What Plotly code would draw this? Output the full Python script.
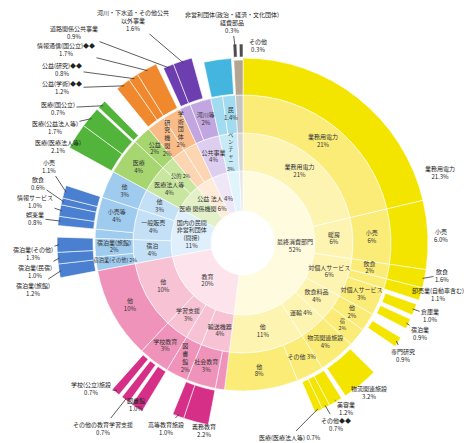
import math
import plotly.graph_objects as go

# ---------------- data (percent of total, clockwise from 12 o'clock) ----------------
ring1_names = ["最終消費部門", "教育", "国内の民間<br>非営利団体<br>(間接)", "医療<br>関係機関",
               "公益<br>法人", "公共", "その他", ""]
ring1_values = [52, 20, 11, 6, 4, 3.5, 2.7, 0.8]
ring1_groups = ["Y", "P", "B", "G", "O", "U", "C", "K"]

ring2_names = ["業務用電力", "暖房", "対個人サービス", "飲食料品", "運輸", "他",
               "輸送機器", "図書館", "学習支援", "他",
               "宿泊", "一般販売", "他",
               "医療法人等", "公的",
               "研究", "学術",
               "公共事業",
               "ベンチャー",
               ""]
ring2_values = [21.3, 6.0, 5.7, 4, 4, 11,
                4.2, 2.4, 3.4, 10,
                3.5, 4.5, 3,
                4, 2,
                2, 2,
                3.5,
                2.7,
                0.8]
ring2_groups = ["Y", "Y", "Y", "Y", "Y", "Y",
                "P", "P", "P", "P",
                "B", "B", "B",
                "G", "G",
                "O", "O",
                "U",
                "C",
                "K"]

ring3_names = ["業務用電力", "小売", "飲食", "卸売", "対個人サービス", "他", "宿", "物流関連施設", "その他", "他",
               "その他", "社会教育", "図書館", "学校教育", "他",
               "宿泊業(その他)", "宿泊業(旅館)", "他", "小売等", "他",
               "医療", "公益",
               "研究機関", "学術団体",
               "道路", "河川等",
               "国", "民",
               ""]
ring3_values = [21.3, 6.0, 1.6, 1.1, 3.0, 2, 2, 4, 3, 8,
                1.0, 3.2, 2.4, 3.4, 10,
                1.5, 2.0, 1.0, 3.5, 3,
                4, 2,
                2, 2,
                1.2, 2.3,
                1.3, 1.4,
                0.8]
ring3_groups = ["Y"] * 10 + ["P"] * 5 + ["B"] * 5 + ["G"] * 2 + ["O"] * 2 + ["U"] * 2 + ["C"] * 2 + ["K"]

# outer ring (None = empty slot)
ring4_names = ["業務用電力", "小売", "飲食", "卸売業(自動車含む)", None, "倉庫業", None, "宿泊業", None,
               "専門研究", None, "物流関連施設", None, "美容業", "その他◆◆", "医療(医療法人等)", None,
               None, "義務教育", "高等教育施設", None, "図書館", None, "その他の教育学習支援", None,
               "学校(公立)施設", None,
               "宿泊業(旅館)", "宿泊業(民宿)", "宿泊業(その他)", None, "娯楽業", "情報サービス", "飲食", "小売", None,
               "医療(医療法人等)", "医療(公益法人等)", None, "医療(国公立)", None,
               None, "公益(学術)◆◆", "公益(研究)◆◆", "情報通信(国公立)◆◆", None,
               None, "道路関係公共事業", "河川・下水道・その他公共以外事業", None,
               None, "団体", None,
               ""]
ring4_values = [21.3, 6.0, 1.6, 1.1, 0.4, 1.0, 0.4, 0.9, 0.9,
                0.9, 2.9, 3.2, 0.4, 1.2, 0.7, 0.7, 8.4,
                1.0, 2.2, 1.0, 2.4, 1.0, 0.3, 0.7, 0.3,
                0.7, 10.4,
                1.2, 1.0, 1.3, 1.0, 0.8, 1.0, 0.6, 1.1, 3,
                2.1, 1.7, 0.2, 0.7, 1.3,
                0.1, 1.2, 0.8, 1.7, 0.2,
                0.2, 0.9, 1.6, 0.8,
                0.1, 2.4, 0.2,
                0.8]
ring4_groups = ["Y"] * 17 + ["P"] * 10 + ["B"] * 9 + ["G"] * 5 + ["O"] * 5 + ["U"] * 4 + ["C"] * 3 + ["K"]

ring5_names = [None, "非営利団体(政治・経済・文化団体)経費部品", None, "その他"]
ring5_values = [99.2, 0.3, 0.2, 0.3]
ring5_groups = ["K", "K", "K", "K"]

# ---------------- style / layout ----------------
W, H = 471, 443
CX, CY = 243, 243
RMAX = 200
FONT = "Noto Sans CJK JP"
FS = 6

RADII = [(32, 72), (72, 110), (110, 148)]
OUTER = {"Y": (148, 185), "P": (150, 185), "B": (150, 186), "G": (150, 198),
         "O": (150, 199), "U": (150, 192), "C": (149, 185), "K": (148, 183)}
Y_ATTACHED = {"業務用電力", "小売", "飲食", "卸売業(自動車含む)"}
Y_EXPLODED = (151, 184)
P_THIN = {"図書館", "その他の教育学習支援", "学校(公立)施設"}
P_THIN_R = (150, 196)
RING5_R = (186, 199)

COLORS = {
    "Y": ["#FFFBDE", "#FEF4B2", "#FBEC78", "#F4E500"],
    "P": ["#FCE3EC", "#F7C2D4", "#EF93BA", "#D52F87"],
    "B": ["#DFEFFB", "#C3E0F6", "#9FCBEF", "#4A80CF"],
    "G": ["#E2F1CA", "#C8E6A0", "#A7D670", "#52B43A"],
    "O": ["#FEEBD8", "#FCD6B2", "#F9BC88", "#F0892E"],
    "U": ["#EFE6F7", "#DDCDEF", "#C2A6E0", "#6C3EAF"],
    "C": ["#E2F4FB", "#C8EAF7", "#A2DBF0", "#44B5DF"],
    "K": ["#E8E8E8", "#D6D6D6", "#C4C4C4", "#B3A591"],
}
K_DARK = "#4D4D4D"

# label text centres (px) for outside labels; third item: draw leader line
LABELS = {
    "Y:業務用電力": (440, 172, False),
    "Y:小売": (441, 236, False),
    "Y:飲食": (442, 275, True),
    "Y:卸売業(自動車含む)": (438, 294, True),
    "Y:倉庫業": (430, 315, True),
    "Y:宿泊業": (420, 333, True),
    "Y:専門研究": (403, 355, True),
    "Y:物流関連施設": (369, 392, True),
    "Y:美容業": (346, 408, True),
    "Y:その他◆◆": (336, 424, True),
    "Y:医療(医療法人等)": (290, 437, True),
    "P:義務教育": (204, 430, True),
    "P:高等教育施設": (166, 428, True),
    "P:図書館": (136, 404, True),
    "P:その他の教育学習支援": (103, 428, True),
    "P:学校(公立)施設": (91, 388, True),
    "B:宿泊業(旅館)": (33, 289, True),
    "B:宿泊業(民宿)": (35, 271, True),
    "B:宿泊業(その他)": (33, 253, True),
    "B:娯楽業": (35, 218, True),
    "B:情報サービス": (35, 201, True),
    "B:飲食": (38, 184, True),
    "B:小売": (49, 166, True),
    "G:医療(医療法人等)": (58, 146, True),
    "G:医療(公益法人等)": (55, 127, True),
    "G:医療(国公立)": (58, 108, True),
    "O:公益(学術)◆◆": (62, 88, True),
    "O:公益(研究)◆◆": (62, 69, True),
    "O:情報通信(国公立)◆◆": (66, 50, True),
    "U:道路関係公共事業": (74, 32, True),
    "U:河川・下水道・その他公共以外事業": (133, 20, True),
    "K:非営利団体(政治・経済・文化団体)経費部品": (232, 22, True),
    "K:その他": (258, 45, False),
}
DISPLAY = {
    "河川・下水道・その他公共以外事業": "河川・下水道・その他公共<br>以外事業",
    "非営利団体(政治・経済・文化団体)経費部品": "非営利団体(政治・経済・文化団体)<br>経費部品",
}
SINGLE_LINE = {"Y:医療(医療法人等)"}

fig = go.Figure()


def build_ring(names, values, groups, level):
    cum = 0.0
    segs = []
    for n, v, g in zip(names, values, groups):
        start = cum * 3.6
        w = v * 3.6
        cum += v
        if n is None:
            continue
        if level < 3:
            r0, r1 = RADII[level]
        elif level == 3:
            r0, r1 = OUTER[g]
            if g == "Y" and n not in Y_ATTACHED:
                r0, r1 = Y_EXPLODED
            if g == "P" and n in P_THIN:
                r0, r1 = P_THIN_R
        else:
            r0, r1 = RING5_R
        color = K_DARK if level == 4 else COLORS[g][level]
        segs.append(dict(name=n, value=v, group=g, theta=start + w / 2, width=w,
                         r0=r0, r1=r1, color=color))
    fig.add_trace(go.Barpolar(
        theta=[s["theta"] for s in segs],
        width=[s["width"] for s in segs],
        base=[s["r0"] for s in segs],
        r=[s["r1"] - s["r0"] for s in segs],
        marker=dict(color=[s["color"] for s in segs], line=dict(color="white", width=0.6)),
        hoverinfo="skip", showlegend=False))
    return segs


rings = [
    build_ring(ring1_names, ring1_values, ring1_groups, 0),
    build_ring(ring2_names, ring2_values, ring2_groups, 1),
    build_ring(ring3_names, ring3_values, ring3_groups, 2),
    build_ring(ring4_names, ring4_values, ring4_groups, 3),
    build_ring(ring5_names, ring5_values, ring5_groups, 4),
]


def pct(v, outer=False):
    if outer:
        return f"{v:.1f}%"
    return f"{v:.0f}%" if v >= 1.5 else f"{v:.1f}%"


def text_w(s, fs):
    w = 0.0
    for c in s:
        if ord(c) < 128:
            w += fs * (0.4 if c in "() " else 0.62)
        else:
            w += fs * 1.02
    return w


placed = []
PAD = 0.8


def collides(b):
    for p in placed:
        if not (b[2] <= p[0] or b[0] >= p[2] or b[3] <= p[1] or b[1] >= p[3]):
            return True
    return False


def make_box(px, py, tw, thh):
    return (px - tw / 2 - PAD, py - thh / 2 - PAD, px + tw / 2 + PAD, py + thh / 2 + PAD)


# inner labels (large segments first)
lab_r, lab_t, lab_txt, lab_fs = [], [], [], []
inner = [s for level in range(3) for s in rings[level] if s["name"]]
inner.sort(key=lambda s: -math.radians(s["width"]) * (s["r0"] + s["r1"]) / 2)
for s in inner:
    rm = (s["r0"] + s["r1"]) / 2
    th = math.radians(s["theta"])
    arc = math.radians(s["width"]) * rm
    thick = s["r1"] - s["r0"]
    availW = abs(math.cos(th)) * arc + abs(math.sin(th)) * thick
    availH = abs(math.sin(th)) * arc + abs(math.cos(th)) * thick
    px = CX + rm * math.sin(th)
    py = CY - rm * math.cos(th)
    name_lines = s["name"].split("<br>")
    p = pct(s["value"])
    chosen = None
    for fs in (FS, FS - 0.8, FS - 1.4):
        options = [
            name_lines + [p],
            [" ".join(name_lines) + " " + p],
            list("".join(name_lines)) + [p],
        ]
        for lines in options:
            tw = max(text_w(l, fs) for l in lines)
            thh = len(lines) * fs * 1.3
            if tw <= availW * 1.15 and thh <= availH * 1.15:
                box = make_box(px, py, tw, thh)
                if not collides(box):
                    chosen = (lines, fs, box)
                    break
        if chosen:
            break
    if chosen is None:
        fs = FS - 1.6
        for lines in ([" ".join(name_lines) + " " + p], [p]):
            tw = max(text_w(l, fs) for l in lines)
            box = make_box(px, py, tw, fs * 1.3)
            if not collides(box):
                chosen = (lines, fs, box)
                break
    if chosen is None:
        continue
    placed.append(chosen[2])
    lab_r.append(rm)
    lab_t.append(s["theta"])
    lab_txt.append("<br>".join(chosen[0]))
    lab_fs.append(chosen[1])

fig.add_trace(go.Scatterpolar(
    r=lab_r, theta=lab_t, text=lab_txt, mode="text",
    textfont=dict(family=FONT, size=lab_fs, color="#333333"),
    hoverinfo="skip", showlegend=False, cliponaxis=False))

# outside labels with leader lines
annotations = []
for level in (3, 4):
    for s in rings[level]:
        key = f"{s['group']}:{s['name']}"
        if key not in LABELS:
            continue
        lx, ly, arrow = LABELS[key]
        name = DISPLAY.get(s["name"], s["name"])
        sep = " " if key in SINGLE_LINE else "<br>"
        txt = f"{name}{sep}{pct(s['value'], outer=True)}"
        th = math.radians(s["theta"])
        rt = s["r1"] - 2
        px = CX + rt * math.sin(th)
        py = CY - rt * math.cos(th)
        if arrow:
            annotations.append(dict(
                x=px / W, y=1 - py / H, xref="paper", yref="paper",
                ax=lx - px, ay=ly - py, axref="pixel", ayref="pixel",
                text=txt, showarrow=True, arrowhead=0, arrowwidth=0.8,
                arrowcolor="#333333", standoff=0, startstandoff=0,
                font=dict(family=FONT, size=FS, color="#222222"), align="center"))
        else:
            annotations.append(dict(
                x=lx / W, y=1 - ly / H, xref="paper", yref="paper",
                text=txt, showarrow=False, xanchor="center", yanchor="middle",
                font=dict(family=FONT, size=FS, color="#222222"), align="center"))

fig.update_layout(
    width=W, height=H,
    margin=dict(l=0, r=0, t=0, b=0),
    paper_bgcolor="white", plot_bgcolor="white",
    showlegend=False,
    annotations=annotations,
    polar=dict(
        domain=dict(x=[(CX - RMAX) / W, (CX + RMAX) / W],
                    y=[(H - CY - RMAX) / H, (H - CY + RMAX) / H]),
        bgcolor="rgba(0,0,0,0)",
        radialaxis=dict(range=[0, RMAX], visible=False, showgrid=False),
        angularaxis=dict(visible=False, rotation=90, direction="clockwise", showgrid=False),
    ),
)

fig.write_html("out.html")
